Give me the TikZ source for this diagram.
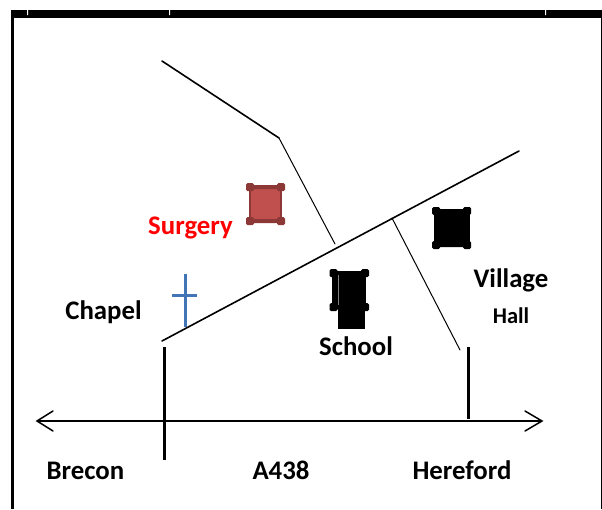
\documentclass[tikz,border=0pt]{standalone}
\usepackage{fontspec}
\setmainfont{Carlito}
\definecolor{surgfill}{RGB}{192,80,77}
\definecolor{surgline}{RGB}{140,56,54}
\definecolor{crossblue}{RGB}{66,117,181}
\tikzset{
  x=1pt,y=-1pt,
  lbl/.style={inner sep=0pt,font=\fontsize{26.8}{30}\selectfont\bfseries,text=black},
  lblsmall/.style={lbl,font=\fontsize{22.5}{26}\selectfont\bfseries},
  road/.style={draw=black,line width=1.6pt,line cap=round,line join=round},
  lane/.style={draw=black,line width=1pt,line cap=round},
  post/.style={draw=black,line width=3pt},
  house/.style={line width=2.6pt,line join=miter},
  crossbar/.style={draw=crossblue,line width=3pt},
  barb/.style={draw=black,line width=1.5pt,line cap=round,line join=miter},
}
\newcommand{\lugs}[5]{%
  \foreach \lx in {#1,#3} \foreach \ly in {#2,#4}
    \fill[#5,rounded corners=1.5pt] (\lx-4,\ly-4) rectangle (\lx+4,\ly+4);
  \fill[#5] (#1,#2-2) rectangle (#3,#2+2) (#1,#4-2) rectangle (#3,#4+2);}
\begin{document}
\begin{tikzpicture}
\useasboundingbox (0,0) rectangle (602,509);
\fill[white] (0,0) rectangle (602,509);
% frame
\fill[black] (11,10) rectangle (602,17.5);
\fill[black] (11,10) rectangle (14.3,509);
\fill[black] (601,17.5) rectangle (602,509);
\fill[white] (27,10) rectangle (28,15) (169,10) rectangle (170,15) (545,10) rectangle (546,15);
% coordinates
\coordinate (lanetop) at (162,61);
\coordinate (lanebend) at (279,138);
\coordinate (lanefoot) at (335,244);
\coordinate (mainstart) at (162,341);
\coordinate (mainend) at (519,151);
\coordinate (sidetop) at (392,218);
\coordinate (sidefoot) at (460,350);
\coordinate (postatop) at (164,347);
\coordinate (postabot) at (164,460);
\coordinate (postbtop) at (468,347);
\coordinate (postbbot) at (468,419);
\coordinate (roadw) at (37,421);
\coordinate (roade) at (542,421);
\coordinate (wbarba) at (53,411);
\coordinate (wbarbb) at (53,431);
\coordinate (ebarba) at (525,411);
\coordinate (ebarbb) at (525,431);
\coordinate (crosstop) at (185,274);
\coordinate (crossfoot) at (185,327);
\coordinate (crossl) at (172,295);
\coordinate (crossr) at (197,295);
% roads
\draw[road] (lanetop) -- (lanebend);
\draw[lane] (lanebend) -- (lanefoot);
\draw[road] (mainstart) -- (mainend);
\draw[lane] (sidetop) -- (sidefoot);
\draw[post] (postatop) -- (postabot);
\draw[post] (postbtop) -- (postbbot);
\draw[draw=black,line width=1.5pt] (roadw) -- (roade);
\draw[barb] (wbarba) -- (roadw) -- (wbarbb);
\draw[barb] (ebarba) -- (roade) -- (ebarbb);
% cross
\draw[crossbar] (crosstop) -- (crossfoot);
\draw[crossbar] (crossl) -- (crossr);
% buildings
\draw[house,draw=surgline,fill=surgfill] (250,187) rectangle (281,221);
\lugs{250}{187}{281}{221}{surgline}
\draw[house,draw=black,fill=black] (435.5,211) rectangle (468.5,245);
\lugs{436}{211}{467}{245}{black}
\draw[house,draw=black,fill=black] (333.5,273) rectangle (365,307);
\lugs{333.5}{273}{365}{307}{black}
\fill[black] (338,275) rectangle (365,329);
\draw[gray,line width=0.4pt] (337.7,275) -- (337.7,305);
% labels
\node[lbl,text=red] (surgery) at (190.5,227.5) {Surgery};
\node[lbl] (chapel) at (103.5,312.5) {Chapel};
\node[lbl] (school) at (356,346) {School};
\node[lbl] (village) at (511,280.5) {Village};
\node[lblsmall] (hall) at (511,315.5) {Hall};
\node[lbl] (brecon) at (85.5,470.5) {Brecon};
\node[lbl] (a438) at (281,470.5) {A438};
\node[lbl] (hereford) at (462,470.5) {Hereford};
\end{tikzpicture}
\end{document}
